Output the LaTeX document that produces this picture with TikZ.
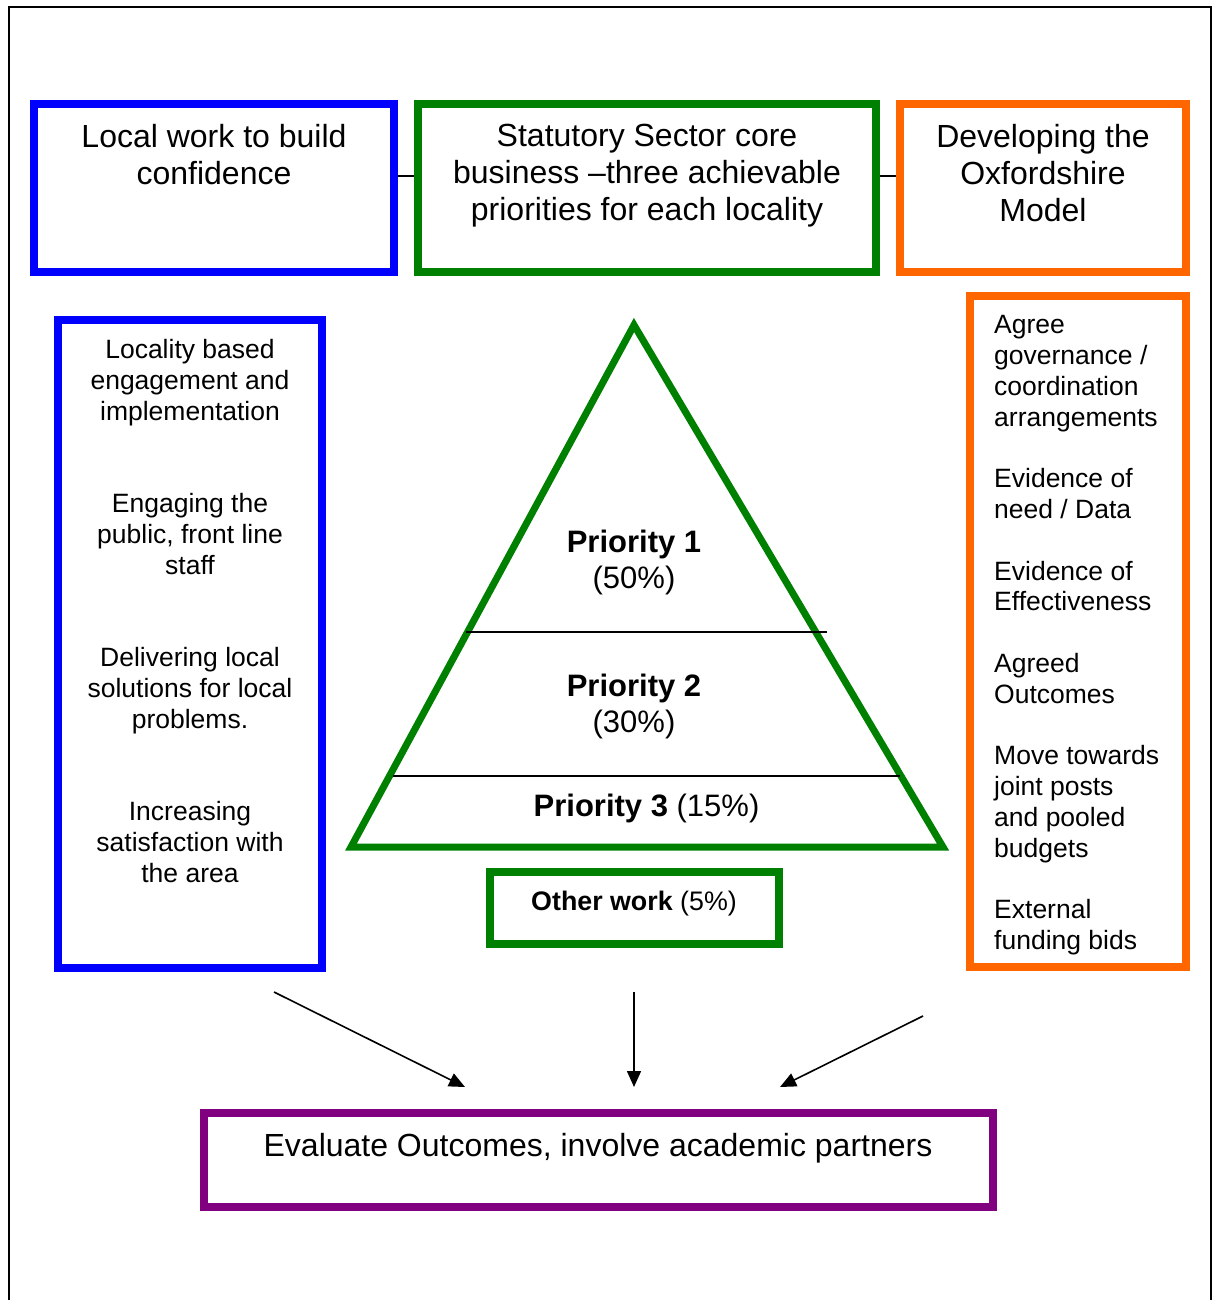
\documentclass[tikz,border=0pt]{standalone}
\usepackage{fontspec}
\setmainfont{Liberation Sans}
\usetikzlibrary{arrows.meta}
\definecolor{localblue}{RGB}{0,0,255}
\definecolor{coregreen}{RGB}{0,128,0}
\definecolor{modelorange}{RGB}{255,102,0}
\definecolor{evalpurple}{RGB}{128,0,128}

\begin{document}
\begin{tikzpicture}[x=1pt,y=-1pt,
  box/.style={draw=#1, line width=8pt, inner sep=0pt},
  head/.style={align=center, anchor=north, inner sep=0pt, font=\fontsize{32}{37}\selectfont},
  side/.style={inner sep=0pt, font=\fontsize{26.5}{30.8}\selectfont},
  prio/.style={align=center, inner sep=0pt, font=\fontsize{31}{36}\selectfont},
  link/.style={line width=1.5pt},
  flow/.style={line width=1.6pt, -{Triangle[length=16pt,width=14pt]}}]
\useasboundingbox (0,0) rectangle (1214,1300);
\draw [line width=2pt] (9,1300) -- (9,7) -- (1211,7) -- (1211,1300);

% top row
\node [box=localblue, minimum width=360pt, minimum height=168pt] (local) at (214,188) {};
\node [box=coregreen, minimum width=458pt, minimum height=168pt] (core) at (647,188) {};
\node [box=modelorange, minimum width=286pt, minimum height=168pt] (model) at (1043,188) {};
\node [head] (localtxt) at (214,124) {Local work to build\\confidence};
\node [head] (coretxt) at (647,124) {Statutory Sector core\\business –three achievable\\priorities for each locality};
\node [head] (modeltxt) at (1043,124) {Developing the\\Oxfordshire\\Model};
\draw [link] ([yshift=12pt]local.east) -- ([yshift=12pt]core.west);
\draw [link] ([yshift=12pt]core.east) -- ([yshift=12pt]model.west);

% side columns
\node [box=localblue, minimum width=264pt, minimum height=648pt] (left) at (190,644) {};
\node [side, align=center, anchor=north] (lefttxt) at (190,339.5)
  {Locality based\\engagement and\\implementation\\[61.6pt]
   Engaging the\\public, front line\\staff\\[61.6pt]
   Delivering local\\solutions for local\\problems.\\[61.6pt]
   Increasing\\satisfaction with\\the area};
\node [box=modelorange, minimum width=216pt, minimum height=671pt] (right) at (1078,631.5) {};
\node [side, align=left, anchor=north west] (righttxt) at (994,315.5)
  {Agree\\governance /\\coordination\\arrangements\\[30.7pt]
   Evidence of\\need / Data\\[30.7pt]
   Evidence of\\Effectiveness\\[30.7pt]
   Agreed\\Outcomes\\[30.7pt]
   Move towards\\joint posts\\and pooled\\budgets\\[30.7pt]
   External\\funding bids};

% pyramid
\draw [coregreen, line width=7pt] (634,325) -- (943,847) -- (351,847) -- cycle;
\draw [line width=2pt] (466,632) -- (827,632);
\draw [line width=2pt] (393,776) -- (900,776);
\node [prio, anchor=north] (p1) at (634,530) {\textbf{Priority 1}\\(50\%)};
\node [prio, anchor=north] (p2) at (634,674) {\textbf{Priority 2}\\(30\%)};
\node [prio, anchor=base] (p3) at (646.5,816) {\textbf{Priority 3} (15\%)};
\node [box=coregreen, minimum width=289pt, minimum height=72pt] (other) at (634.5,908) {};
\node [anchor=base, inner sep=0pt, font=\fontsize{26.8}{31}\selectfont] (othertxt) at (634,910.5) {\textbf{Other work} (5\%)};

% outcome
\node [box=evalpurple, minimum width=789pt, minimum height=94pt] (eval) at (598.5,1160) {};
\node [anchor=base, inner sep=0pt, font=\fontsize{32}{37}\selectfont] (evaltxt) at (598,1156.5) {Evaluate Outcomes, involve academic partners};
\coordinate (fromleft) at (274,992);
\coordinate (toleft) at (465,1087);
\coordinate (frommid) at (634,992);
\coordinate (tomid) at (634,1087);
\coordinate (fromright) at (923,1016);
\coordinate (toright) at (780,1087);
\draw [flow] (fromleft) -- (toleft);
\draw [flow] (frommid) -- (tomid);
\draw [flow] (fromright) -- (toright);
\end{tikzpicture}
\end{document}
